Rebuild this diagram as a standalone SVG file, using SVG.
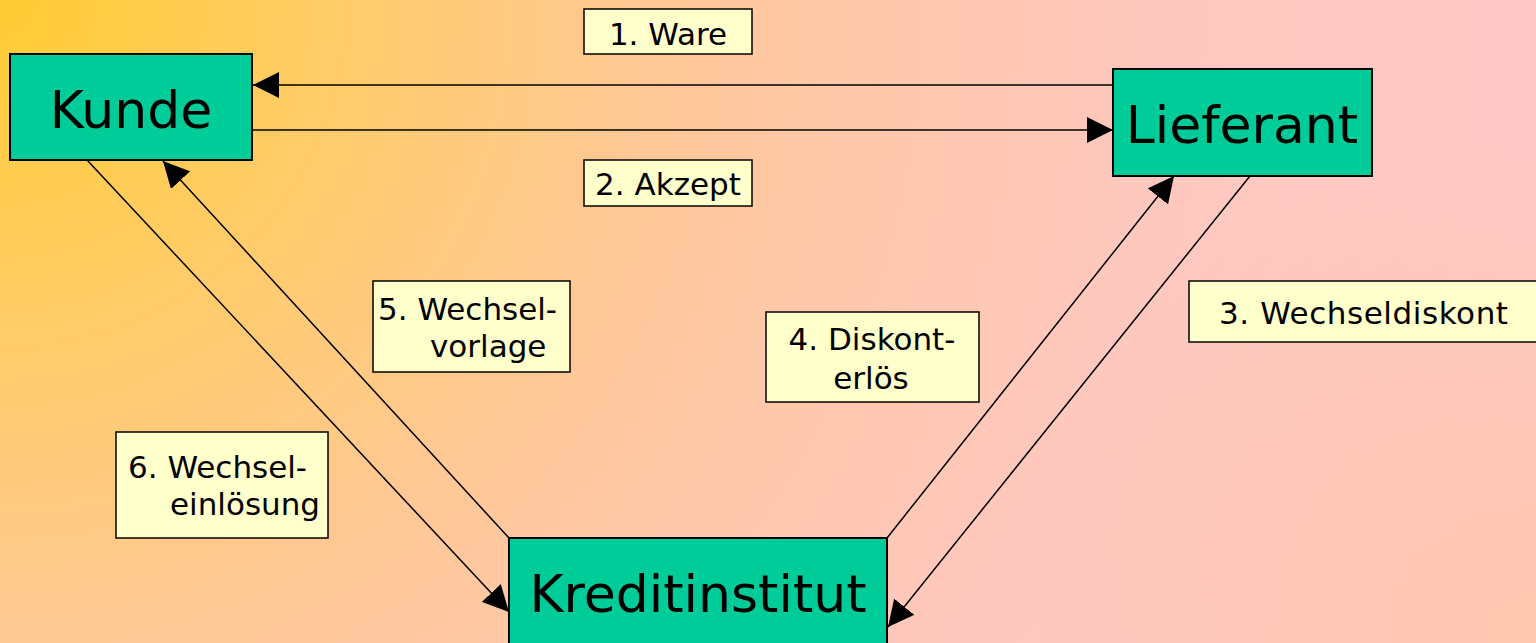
<svg xmlns="http://www.w3.org/2000/svg" width="1536" height="643" viewBox="0 0 1536 643">
  <defs>
    <radialGradient id="bg" gradientUnits="userSpaceOnUse" cx="0" cy="0" r="1600">
      <stop offset="0" stop-color="#FFCC33"/>
      <stop offset="0.2" stop-color="#FFCC66"/>
      <stop offset="0.4" stop-color="#FFC894"/>
      <stop offset="0.52" stop-color="#FFC8A8"/>
      <stop offset="0.72" stop-color="#FFC8BE"/>
      <stop offset="1" stop-color="#FFC8C8"/>
    </radialGradient>
    <radialGradient id="bg2" gradientUnits="userSpaceOnUse" cx="1536" cy="643" r="520">
      <stop offset="0" stop-color="#FFC8A8" stop-opacity="0.8"/>
      <stop offset="1" stop-color="#FFC8A8" stop-opacity="0"/>
    </radialGradient>
    <marker id="arr" markerUnits="userSpaceOnUse" markerWidth="26" markerHeight="26" refX="26" refY="13" orient="auto">
      <path d="M0,0 L26,13 L0,26 z" fill="#000"/>
    </marker>
    <style>
      .node { fill: #00CC99; stroke: #000; stroke-width: 2; }
      .ntext { font-family: "DejaVu Sans", Verdana, sans-serif; font-size: 52px; fill: #000; text-anchor: middle; }
      .lbl { fill: #FFFFCC; stroke: #000; stroke-width: 1.5; }
      .ltext { font-family: "DejaVu Sans", Verdana, sans-serif; font-size: 31px; fill: #000; }
      .conn line { stroke: #000; stroke-width: 1.5; marker-end: url(#arr); }
    </style>
  </defs>
  <rect x="0" y="0" width="1536" height="643" fill="url(#bg)"/>
  <rect x="0" y="0" width="1536" height="643" fill="url(#bg2)"/>

  <g id="connectors" class="conn">
    <line x1="1113" y1="85" x2="253" y2="85"/>
    <line x1="252" y1="130" x2="1113" y2="130"/>
    <line x1="1250" y1="176" x2="888" y2="627"/>
    <line x1="887" y1="538" x2="1174" y2="176"/>
    <line x1="509" y1="538" x2="163" y2="161"/>
    <line x1="87" y1="160" x2="509" y2="612"/>
  </g>

  <g id="kunde">
    <rect class="node" x="10" y="54" width="242" height="106"/>
    <text class="ntext" x="131" y="128">Kunde</text>
  </g>
  <g id="lieferant">
    <rect class="node" x="1113" y="69" width="259" height="107"/>
    <text class="ntext" x="1242" y="143">Lieferant</text>
  </g>
  <g id="kreditinstitut">
    <rect class="node" x="509" y="538" width="378" height="120"/>
    <text class="ntext" x="698" y="612">Kreditinstitut</text>
  </g>

  <g id="label1">
    <rect class="lbl" x="584" y="9" width="168" height="45"/>
    <text class="ltext" x="668" y="45" text-anchor="middle">1. Ware</text>
  </g>
  <g id="label2">
    <rect class="lbl" x="584" y="160" width="168" height="46"/>
    <text class="ltext" x="668" y="195" text-anchor="middle">2. Akzept</text>
  </g>
  <g id="label3">
    <rect class="lbl" x="1189" y="281" width="352" height="61"/>
    <text class="ltext" x="1219" y="324" textLength="289">3. Wechseldiskont</text>
  </g>
  <g id="label4">
    <rect class="lbl" x="766" y="312" width="213" height="90"/>
    <text class="ltext" x="872" y="350" text-anchor="middle">4. Diskont-</text>
    <text class="ltext" x="871" y="389" text-anchor="middle">erlös</text>
  </g>
  <g id="label5">
    <rect class="lbl" x="373" y="281" width="197" height="91"/>
    <text class="ltext" x="378" y="320">5. Wechsel-</text>
    <text class="ltext" x="430" y="357">vorlage</text>
  </g>
  <g id="label6">
    <rect class="lbl" x="116" y="432" width="212" height="106"/>
    <text class="ltext" x="128" y="478">6. Wechsel-</text>
    <text class="ltext" x="170" y="515">einlösung</text>
  </g>
</svg>
